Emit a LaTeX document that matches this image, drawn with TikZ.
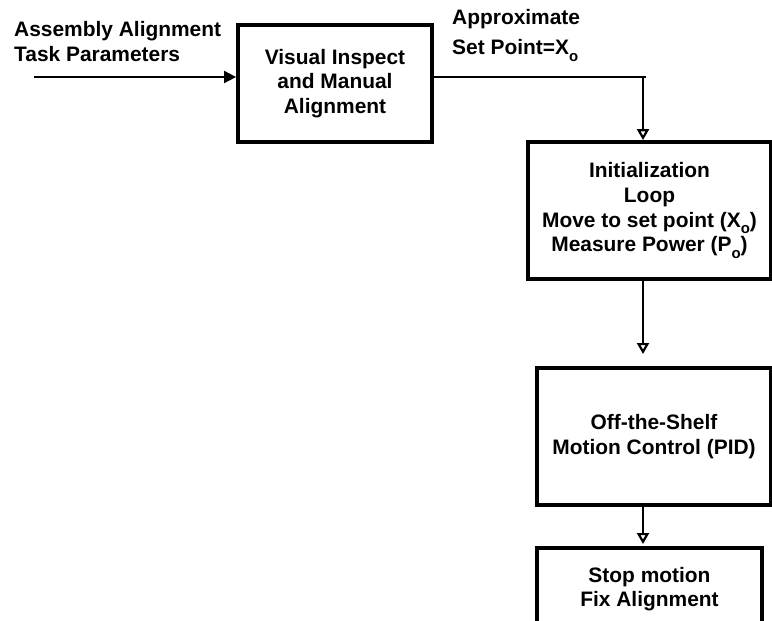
\documentclass[tikz,border=0pt]{standalone}
\usepackage{fontspec}
\setmainfont{Liberation Sans}
\usetikzlibrary{arrows.meta}
\newcommand{\subo}{\raisebox{-0.6ex}{\fontsize{15}{15}\selectfont o}}
\begin{document}
\begin{tikzpicture}[x=1bp,y=-1bp,
  every node/.style={font=\fontsize{21}{24.8}\selectfont\bfseries, inner sep=0pt},
  box/.style={draw, line width=3.8bp, align=center},
  lbl/.style={anchor=base west},
  conn/.style={line width=1.8bp},
  filledarr/.style={conn, -{Triangle[length=12bp,width=12bp]}},
  openarr/.style={conn, -{Triangle[open,length=11bp,width=12bp,line width=2.2bp]}}]
\useasboundingbox (0,0) rectangle (772,621);
\clip (0,0) rectangle (772,621);
% boxes
\node[box, minimum width=194bp, minimum height=117bp] (b1) at (335,83.5)
  {Visual Inspect\\and Manual\\Alignment};
\node[box, minimum width=243bp, minimum height=137bp] (b2) at (649.5,210.5)
  {Initialization\\Loop\\Move to set point (X\subo)\\Measure Power (P\subo)};
\node[box, minimum width=234bp, minimum height=137bp] (b3) at (654,436.5)
  {Off-the-Shelf\\Motion Control (PID)};
\node[box, minimum width=225bp, minimum height=82bp] (b4) at (649.5,589)
  {Stop motion\\Fix Alignment};
% labels
\node[lbl] (l1) at (14,37) {Assembly Alignment};
\node[lbl] (l2) at (14,62) {Task Parameters};
\node[lbl] (l3) at (452,25) {Approximate};
\node[lbl] (l4) at (452,55) {Set Point=X\subo};
% connectors
\coordinate (in) at (34,77);
\coordinate (corner) at (643,77);
\coordinate (cend) at (646,77);
\coordinate (t2) at (643,354);
\coordinate (t3) at (643,544);
\draw[filledarr] (in) -- (in -| b1.west);
\draw[line width=2.8bp] (b1.east |- corner) -- (cend);
\draw[openarr] (corner) -- (corner |- b2.north);
\draw[openarr] (b2.south -| t2) -- (t2);
\draw[openarr] (b3.south -| t3) -- (t3);
\end{tikzpicture}
\end{document}
